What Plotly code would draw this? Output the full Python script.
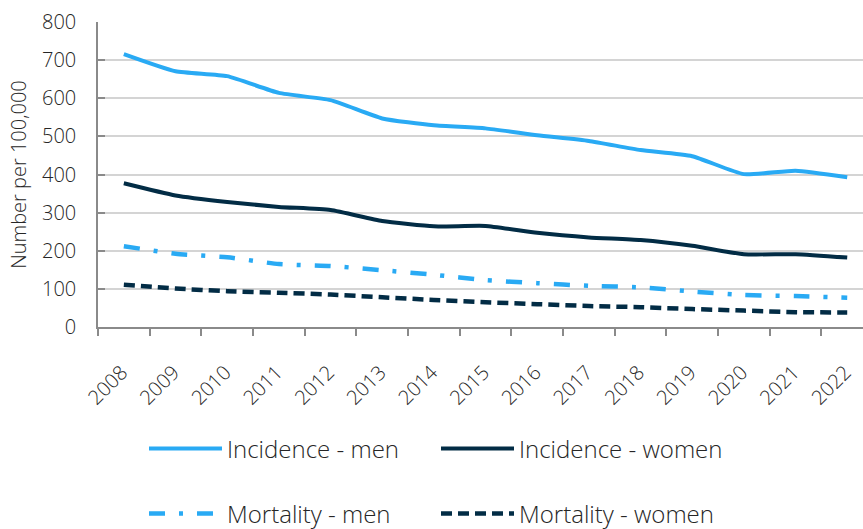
import plotly.graph_objects as go

years = [str(y) for y in range(2008, 2023)]
incidence_men = [716, 671, 658, 614, 595, 547, 529, 521, 503, 488, 464, 448, 401, 410, 393]
incidence_women = [377, 345, 328, 315, 307, 278, 264, 265, 247, 235, 228, 213, 191, 191, 182]
mortality_men = [212, 192, 183, 165, 160, 149, 137, 123, 115, 108, 104, 93, 84, 81, 77]
mortality_women = [111, 101, 94, 90, 85, 78, 71, 65, 60, 55, 52, 47, 43, 39, 38]
y_ticks = [0, 100, 200, 300, 400, 500, 600, 700, 800]
grid_vals = [100, 200, 300, 400, 500, 600, 700]

LIGHT = "#29aaf4"
DARK = "#022c45"
FONT = "Open Sans"
TXT = "#262626"

plot_left, plot_top, plot_bottom = 98, 22, 327
H, W = 529, 863
ph = plot_bottom - plot_top
pw = W - plot_left

def py(px_y):
    return (plot_bottom - px_y) / ph

def pxx(px_x):
    return (px_x - plot_left) / pw

fig = go.Figure()
# invisible trace to activate the gridline axis
fig.add_trace(go.Scatter(x=[years[0]], y=[0], yaxis="y2", mode="lines", showlegend=False,
                         hoverinfo="skip", line=dict(width=0)))
fig.add_trace(go.Scatter(x=years, y=incidence_men, name="Incidence - men", mode="lines",
                         line=dict(color=LIGHT, width=4, shape="spline", smoothing=0.5),
                         legend="legend"))
fig.add_trace(go.Scatter(x=years, y=incidence_women, name="Incidence - women", mode="lines",
                         line=dict(color=DARK, width=4, shape="spline", smoothing=0.5),
                         legend="legend"))
fig.add_trace(go.Scatter(x=years, y=mortality_men, name="Mortality - men", mode="lines",
                         line=dict(color=LIGHT, width=4.5, dash="16px,14px,4px,14px",
                                   shape="spline", smoothing=0.5),
                         legend="legend2"))
fig.add_trace(go.Scatter(x=years, y=mortality_women, name="Mortality - women", mode="lines",
                         line=dict(color=DARK, width=4.5, dash="11px,6px",
                                   shape="spline", smoothing=0.5),
                         legend="legend2"))

cat_px = 51.67
item_w = 73
leg_font = dict(family=FONT, size=24, color=TXT, weight=300)
fig.update_layout(
    width=W, height=H,
    margin=dict(l=plot_left, r=0, t=plot_top, b=H - plot_bottom, autoexpand=False),
    paper_bgcolor="white", plot_bgcolor="white",
    font=dict(family=FONT, color=TXT),
    xaxis=dict(type="category", range=[-0.5, -0.5 + pw / cat_px],
               showline=True, linecolor="#8a8a8a", linewidth=1.5,
               ticks="outside", ticklen=7, tickcolor="#8a8a8a", tickwidth=1.5,
               tickson="boundaries", tickangle=-45, showgrid=False,
               ticklabelstandoff=24, ticklabelshift=-2,
               tickfont=dict(family=FONT, size=20, color=TXT, weight=300), automargin=False),
    yaxis=dict(range=[0, 800], tickvals=y_ticks, showgrid=False, zeroline=False,
               showline=True, linecolor="#8a8a8a", linewidth=1.5,
               ticks="inside", ticklen=7, tickcolor="#8a8a8a", tickwidth=1.5,
               ticklabelstandoff=16,
               tickfont=dict(family=FONT, size=20, color=TXT, weight=300),
               title=dict(text="Number per 100,000",
                          font=dict(family=FONT, size=20, color=TXT, weight=300),
                          standoff=10),
               automargin=False),
    yaxis2=dict(range=[0, 800], overlaying="y", tickvals=grid_vals, showgrid=True,
                gridcolor="#d4d4d4", gridwidth=1.5, showticklabels=False, zeroline=False,
                showline=False, ticks=""),
    legend=dict(orientation="h", x=pxx(144), xanchor="left", y=py(449), yanchor="middle",
                entrywidth=289 - item_w - 12, entrywidthmode="pixels", itemwidth=item_w,
                font=leg_font, bgcolor="rgba(0,0,0,0)"),
    legend2=dict(orientation="h", x=pxx(144), xanchor="left", y=py(514), yanchor="middle",
                 entrywidth=289 - item_w - 12, entrywidthmode="pixels", itemwidth=item_w,
                 font=leg_font, bgcolor="rgba(0,0,0,0)"),
    showlegend=True,
)

fig.write_html("out.html", config={"displayModeBar": False},
               post_script="document.body.style.margin='0px';")
